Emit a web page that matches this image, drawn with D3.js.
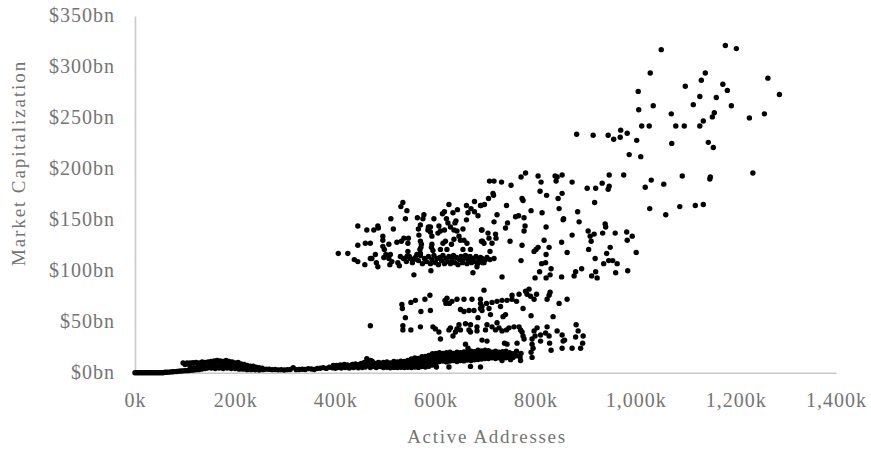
<!DOCTYPE html>
<html>
<head>
<meta charset="utf-8">
<script src="https://cdnjs.cloudflare.com/ajax/libs/d3/7.8.5/d3.min.js"></script>
<style>
  body { margin: 0; background: #fff; }
  text { font-family: "Liberation Serif", serif; fill: #747474; }
</style>
</head>
<body>
<div id="app"></div>
<script>
var chartW = 871;
var chartH = 450;

var xTicks = [0, 200, 400, 600, 800, 1000, 1200, 1400];
var xTickLabels = ["0k", "200k", "400k", "600k", "800k", "1,000k", "1,200k", "1,400k"];
var yTicks = [0, 50, 100, 150, 200, 250, 300, 350];
var yTickLabels = ["$0bn", "$50bn", "$100bn", "$150bn", "$200bn", "$250bn", "$300bn", "$350bn"];

// active addresses (k), market cap ($bn)
var topCloud = [[1051,317],[1179,321],[1201,318],[1029,294],[1139,294],[1131,287],[1099,281],[1174,283],[1183,277],[1264,289],[1287,273],[1005,276],[1128,271],[1161,270],[1115,263],[1191,262],[1035,262],[1006,258],[1071,254],[1157,255],[1153,251],[1135,247],[1227,250],[1257,254],[1012,242],[1027,242],[1080,242],[1097,242],[1128,242],[970,238],[983,235],[882,234],[915,233],[945,233],[956,229],[969,231],[1002,228],[1072,225],[1145,226],[1155,221],[987,214],[1010,212],[947,194],[976,194],[1093,193],[1234,196],[1149,192],[1148,190],[1031,189],[1056,185],[1019,182],[853,194],[839,193],[843,192],[841,188],[811,187],[873,187],[933,186],[903,181],[920,181],[947,183],[945,180],[822,174],[853,176],[845,171],[918,167],[1028,161],[1088,163],[1119,164],[1135,165],[1060,155],[847,161],[813,157],[884,158],[856,151]];

var midRight = [[708,188],[717,188],[732,187],[751,184],[771,192],[780,196],[805,193],[809,178],[715,176],[716,174],[706,171],[773,171],[775,169],[698,165],[691,164],[742,164],[791,159],[723,155],[717,148],[760,153],[766,154],[777,152],[744,147],[740,142],[779,144],[777,139],[821,143],[855,150],[887,148],[939,146],[940,143],[817,130],[852,128],[873,135],[905,139],[917,136],[909,134],[911,129],[934,137],[959,137],[982,138],[993,134],[983,130],[949,123],[906,121],[863,118],[827,123],[805,123],[801,121],[797,119],[821,116],[1001,118],[942,117],[919,112],[936,107],[946,110],[954,110],[963,107],[960,98],[984,100],[771,110],[812,107],[820,108],[831,102],[808,99],[829,96],[799,93],[852,94],[880,99],[877,95],[892,102],[920,99],[912,95],[923,93],[733,94],[821,93],[693,140],[705,137],[720,136],[721,132],[707,132],[694,129],[713,127],[749,129],[773,125],[709,119],[717,112],[709,111],[700,111],[693,112],[697,108]];

var midLeft = [[535,167],[531,163],[543,159],[627,165],[662,164],[678,168],[671,161],[665,157],[678,158],[685,154],[690,164],[577,155],[564,152],[575,151],[540,151],[511,151],[618,158],[614,156],[635,157],[644,160],[597,151],[622,151],[662,150],[625,147],[641,149],[639,147],[445,144],[463,140],[477,140],[485,144],[486,142],[516,141],[570,145],[566,141],[567,135],[586,143],[590,143],[607,144],[585,140],[590,138],[593,134],[605,137],[610,139],[618,140],[630,143],[637,140],[643,139],[655,141],[692,140],[647,134],[650,130],[692,129],[697,127],[495,134],[495,130],[523,128],[532,129],[537,132],[546,132],[545,127],[507,126],[570,129],[572,126],[571,123],[593,126],[592,123],[620,129],[615,127],[637,131],[632,126],[657,130],[663,127],[445,125],[460,127],[470,127],[495,124],[498,121],[610,121],[595,120],[623,121],[655,121],[670,121],[569,121],[545,119],[530,114],[406,117],[425,117],[473,112],[480,116],[501,116],[510,116],[438,111],[445,109],[459,106],[470,112],[497,113],[507,112],[513,109],[509,106],[525,108],[528,105],[482,108],[485,104],[543,114],[550,112],[557,111],[563,116],[570,117],[557,96],[591,100],[675,98]];

var midBand = [[536,112],[542,109],[548,114],[554,108],[560,113],[566,110],[570,115],[574,107],[578,112],[582,109],[586,114],[590,107],[593,111],[597,115],[600,108],[603,112],[606,106],[609,113],[612,110],[615,115],[618,107],[621,112],[624,109],[627,114],[630,107],[633,111],[636,115],[639,108],[642,113],[645,106],[648,111],[651,114],[654,108],[657,112],[660,115],[663,107],[666,111],[669,114],[672,108],[675,112],[678,109],[681,114],[684,107],[687,111],[690,113],[694,108],[698,111],[703,113],[683,104]];

var upperBand = [[697,81],[589,76],[579,72],[560,71],[551,69],[533,67],[534,63],[571,60],[590,61],[540,54],[623,73],[619,71],[621,68],[628,68],[633,70],[643,72],[657,72],[673,72],[690,72],[690,68],[693,65],[702,68],[713,69],[723,70],[733,71],[743,71],[753,76],[753,72],[762,70],[767,77],[775,63],[780,80],[787,82],[783,77],[790,75],[797,72],[802,77],[823,72],[829,79],[827,76],[847,68],[863,72],[730,65],[707,63],[650,62],[657,60],[677,61],[667,61],[690,63],[693,61],[710,57],[740,57],[735,55],[685,54],[791,56],[835,55]];

var lowerBand = [[535,46],[535,42],[551,42],[570,45],[595,45],[600,43],[607,40],[610,33],[627,42],[630,44],[647,47],[643,43],[640,40],[635,36],[650,42],[660,48],[670,47],[667,42],[670,40],[683,45],[683,41],[703,47],[700,42],[713,45],[720,42],[723,49],[727,44],[733,41],[742,42],[747,44],[757,45],[767,45],[770,42],[773,40],[775,36],[777,33],[797,41],[803,44],[799,36],[810,37],[810,31],[820,39],[823,45],[827,36],[828,29],[843,41],[853,37],[858,32],[855,31],[881,47],[885,41],[880,35],[895,36],[894,29],[890,24],[853,24],[873,24],[831,22],[793,33],[793,28],[795,24],[791,20],[793,15],[743,28],[738,29],[763,29],[703,31],[693,32],[660,28],[665,24],[470,46]];

var floorEarly = [[0,0],[4,0],[8,0],[12,0],[16,0],[20,0],[24,0],[28,0],[32,0],[36,0],[40,0],[44,0],[48,0],[52,0],[56,0],[60,0.4],[64,0.5],[68,0.6],[72,0.8],[76,1],[80,1.1],[84,1.2],[88,1.5],[92,1.6],[96,1.8],[100,2],[104,2],[108,2.2],[112,2.5],[116,2.6],[120,2.8],[124,3],[128,3.2],[132,3.5],[136,4],[140,4],[144,4.5]];

var floorHump = [[96,9.6],[100,8],[104,9.5],[110,9.5],[116,9.7],[122,10],[128,9.5],[134,10.5],[140,10],[146,10.5],[152,11],[158,11.5],[164,12],[170,11.5],[176,11],[182,12],[188,11],[194,10.5],[200,9.5],[206,10],[212,8.5],[218,8],[224,7],[230,6.5],[236,6.5],[242,5.5],[248,5],[254,4.5],[110,6],[118,5],[126,6.5],[134,7],[142,6],[150,7.5],[158,8],[166,7],[174,8],[182,7.5],[190,8],[198,6.5],[206,6.5],[214,5.5],[222,5],[230,4.5],[238,4],[246,3.5],[152,4.5],[160,4],[168,4.5],[176,4],[184,4.5],[192,4],[200,4],[208,3.5],[216,3.5],[224,3],[232,3],[240,2.8],[248,2.6],[256,3]];

var floorFlat = [[262,3.5],[268,3.4],[274,3],[280,3.2],[286,2.8],[292,3],[298,2.6],[304,3],[310,3.2],[316,5],[322,3],[328,3.2],[334,3.4],[340,3.2],[346,4],[352,3.6],[358,3.2],[364,4.2],[370,4.4],[376,5],[382,4.2],[388,5.4],[394,4.8],[402,7],[400,4.4],[408,5.4],[414,6],[420,5],[426,6.4],[432,7],[438,5.6],[444,7.4],[450,6],[456,8],[463,13.7],[471,12],[460,5.6],[466,7.4],[472,8.6],[478,6],[484,8],[490,9.4],[490,6],[396,7],[410,7.5],[418,8],[424,7.5],[434,8],[440,8.5],[448,8],[452,9],[458,10],[462,10.4],[468,10],[474,11],[480,9],[486,10],[404,5],[412,4.6],[428,4.6],[436,5],[446,4.8],[454,5],[470,5],[482,5]];

var floorDense = [[496,5],[496,7.4],[496,10],[503,5.4],[503,8],[503,10.6],[510,4.8],[510,7],[510,9.6],[517,5.2],[517,8.4],[517,11],[524,5],[524,7.4],[524,10.6],[531,5.4],[531,8.2],[531,11.4],[538,5],[538,7.6],[538,11],[545,5.4],[545,8.6],[545,12],[552,5],[552,8],[552,11],[552,13.4],[559,5.6],[559,8.6],[559,11.6],[559,14.4],[566,5.2],[566,8],[566,11],[566,14],[573,6],[573,9],[573,12.4],[573,15.6],[580,5.6],[580,8.4],[580,11.6],[580,16],[587,6.4],[587,9.6],[587,13],[587,17],[594,7.6],[594,10.6],[594,14],[594,18.6],[602,5.6],[601,9],[601,12],[601,15.6],[601,19],[608,11],[608,14],[608,17],[608,19.6],[615,11.4],[615,13.6],[615,16.4],[615,19],[622,10.6],[622,14],[622,17],[622,19.6],[627,5.6],[629,11.4],[629,13.6],[629,16.6],[629,20],[636,12],[636,14.6],[636,17],[636,19],[643,11],[643,14],[643,16.6],[643,20],[650,12],[650,14.4],[650,17.4],[650,19.6],[657,11.6],[657,14],[657,16.6],[657,20.4],[664,12.4],[664,15],[664,17.6],[664,20],[670,6.2],[671,12],[671,14.6],[671,18],[671,21],[678,12.6],[678,15],[678,17.4],[678,20.6],[685,13],[685,15.6],[685,18],[685,22],[690,5.6],[692,13.4],[692,16],[692,18.6],[692,21.4],[699,14],[699,16.4],[699,19],[699,22],[706,14],[706,17],[706,19.6],[706,21.6],[713,14.6],[713,17],[713,20],[720,14],[720,16.6],[720,19.4],[720,21],[727,14.6],[727,17.4],[727,20],[733,12],[734,15],[734,18],[734,20.6],[741,14.6],[741,18],[741,21],[748,16],[748,19.6],[750,12.8],[755,15],[755,18.6],[762,16.6],[762,21],[770,12],[769,15.4],[771,19]];

var xScale = d3.scaleLinear().domain([0, 1400]).range([135, 836]);
var yScale = d3.scaleLinear().domain([0, 350]).range([372.7, 16]);

var container = d3.select("#app")
    .append("svg")
    .attr("width", chartW)
    .attr("height", chartH);

var xAxis = d3.axisBottom(xScale)
    .tickValues(xTicks)
    .tickSize(0)
    .tickPadding(20)
    .tickFormat(function (d, i) { return xTickLabels[i]; });

var yAxis = d3.axisLeft(yScale)
    .tickValues(yTicks)
    .tickSize(0)
    .tickPadding(20)
    .tickFormat(function (d, i) { return yTickLabels[i]; });

//AXES
[container.append("g").attr("transform", "translate(0,372.7)").call(xAxis),
 container.append("g").attr("transform", "translate(135,0)").call(yAxis)].forEach(function (g) {
    g.select(".domain").style("stroke", "#c9c9c9").style("stroke-width", 1.6);
    g.selectAll("text")
        .style("font-family", "'Liberation Serif', serif")
        .style("font-size", "20px")
        .style("letter-spacing", "1px")
        .style("fill", "#747474");
});
container.selectAll("g:nth-of-type(2) .tick text").attr("dy", "0.27em");

//POINTS
var points = [].concat(topCloud, midRight, midLeft, midBand, upperBand, lowerBand,
    floorEarly, floorHump, floorFlat, floorDense);

container.selectAll("circle")
    .data(points)
    .enter()
    .append("circle")
    .attr("cx", function (d) { return xScale(d[0]); })
    .attr("cy", function (d) { return yScale(d[1]); })
    .attr("r", 2.7)
    .style("fill", "black");

//TITLES
container.append("text")
    .attr("x", 487)
    .attr("y", 443)
    .attr("text-anchor", "middle")
    .style("font-size", "19px")
    .style("letter-spacing", "1.7px")
    .text("Active Addresses");

container.append("text")
    .attr("transform", "translate(25,163) rotate(-90)")
    .attr("text-anchor", "middle")
    .style("font-size", "19px")
    .style("letter-spacing", "1.9px")
    .text("Market Capitalization");
</script>
</body>
</html>
